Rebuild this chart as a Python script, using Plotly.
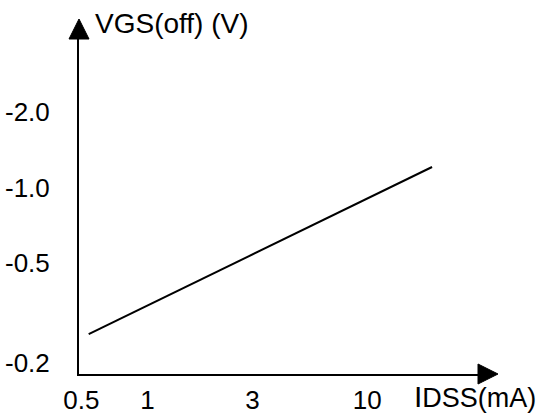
import numpy as np
import plotly.graph_objects as go

# ---- data ----
idss_ma = [0.54, 19.7]          # IDSS (mA)
vgs_off_v = [-0.26, -1.21]      # VGS(off) (V)

x_tick_values = [0.5, 1, 3, 10]
x_tick_labels = ["0.5", "1", "3", "10"]
y_tick_values = [-2.0, -1.0, -0.5, -0.2]
y_tick_labels = ["-2.0", "-1.0", "-0.5", "-0.2"]

# ---- layout geometry (pixels) ----
W, H = 540, 417
L, R, T, B = 79, 488, 29, 374   # plot area edges


def px(xp):
    return (xp - L) / (R - L)


def py(yp):
    return (B - yp) / (B - T)


FONT = "Liberation Sans, Arial, sans-serif"
TICK = 26

fig = go.Figure()
fig.add_trace(go.Scatter(
    x=idss_ma,
    y=np.abs(vgs_off_v),
    mode="lines",
    line=dict(color="black", width=2),
    hoverinfo="skip",
    showlegend=False,
))

fig.update_layout(
    width=W, height=H,
    margin=dict(l=L, r=W - R, t=T, b=H - B, pad=0, autoexpand=False),
    paper_bgcolor="white", plot_bgcolor="white",
    font=dict(family=FONT, color="black", size=TICK),
    showlegend=False,
    xaxis=dict(
        type="log", range=[-0.3117, 1.549], automargin=False,
        tickvals=x_tick_values, ticktext=x_tick_labels,
        showline=True, linecolor="black", linewidth=2,
        showgrid=False, zeroline=False, ticks="",
        ticklabelstandoff=2,
        tickfont=dict(size=TICK, family=FONT, color="black"),
    ),
    yaxis=dict(
        type="log", range=[-0.744, 0.634], automargin=False,
        tickvals=list(np.abs(y_tick_values)), ticktext=y_tick_labels,
        showline=True, linecolor="black", linewidth=2,
        showgrid=False, zeroline=False, ticks="",
        ticklabelstandoff=22,
        tickfont=dict(size=TICK, family=FONT, color="black"),
    ),
    shapes=[
        # y-axis arrowhead
        dict(type="path", xref="paper", yref="paper",
             path=f"M {px(69)} {py(39)} L {px(89)} {py(39)} L {px(79)} {py(19)} Z",
             fillcolor="black", line=dict(color="black", width=1)),
        # x-axis arrowhead
        dict(type="path", xref="paper", yref="paper",
             path=f"M {px(478)} {py(364)} L {px(478)} {py(384)} L {px(498)} {py(374)} Z",
             fillcolor="black", line=dict(color="black", width=1)),
    ],
    annotations=[
        dict(xref="paper", yref="paper", x=px(93), y=py(24),
             xanchor="left", yanchor="middle", showarrow=False,
             text="VGS(off) (V)", font=dict(size=28, family=FONT, color="black")),
        dict(xref="paper", yref="paper", x=px(412), y=py(396),
             xanchor="left", yanchor="middle", showarrow=False,
             text="<span style='font-size:30px'>I</span>DSS(mA)",
             font=dict(size=27, family=FONT, color="black")),
    ],
)

fig.write_html(
    "out.html",
    config={"displayModeBar": False},
    post_script="document.body.style.margin='0';document.body.style.overflow='hidden';",
)
